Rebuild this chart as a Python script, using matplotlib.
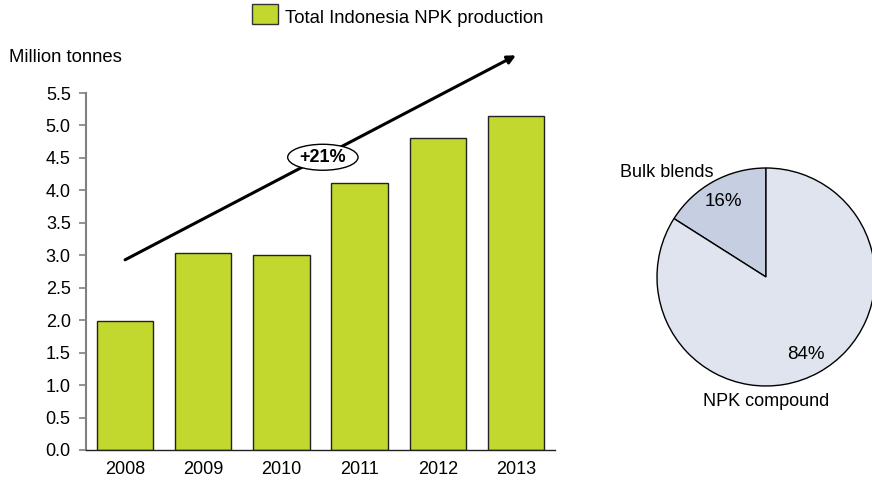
import matplotlib
matplotlib.use("Agg")
import matplotlib.pyplot as plt
from matplotlib.patches import Ellipse, Rectangle, FancyArrowPatch

plt.rcParams['font.family'] = ['Liberation Sans', 'DejaVu Sans']

years = ["2008", "2009", "2010", "2011", "2012", "2013"]
production = [1.98, 3.03, 3.00, 4.11, 4.80, 5.14]
yticks = [0.0, 0.5, 1.0, 1.5, 2.0, 2.5, 3.0, 3.5, 4.0, 4.5, 5.0, 5.5]
pie_labels = ["Bulk blends", "NPK compound"]
pie_shares = [16, 84]
growth_label = "+21%"
legend_label = "Total Indonesia NPK production"
unit_label = "Million tonnes"

bar_color = "#c3d82e"
pie_colors = ["#c5cfe1", "#dfe4ef"]
FS = 13

W, H = 872, 491
fig = plt.figure(figsize=(W / 100, H / 100), dpi=100)

# Bar chart axes
ax = fig.add_axes([86 / W, 1 - 450 / H, (555 - 86) / W, (450 - 93) / H])
x = list(range(len(years)))
ax.bar(x, production, width=0.72, color=bar_color, edgecolor="#222222", linewidth=1.0, zorder=2)
ax.set_xlim(-0.5, 5.5)
ax.set_ylim(0, 5.5)
ax.set_yticks(yticks)
ax.set_yticklabels([f"{v:.1f}" for v in yticks], fontsize=FS)
ax.set_xticks(x)
ax.set_xticklabels(years, fontsize=FS)
for s in ["top", "right"]:
    ax.spines[s].set_visible(False)
ax.spines["left"].set_color("#808080")
ax.spines["left"].set_linewidth(1.5)
ax.spines["bottom"].set_color("#222222")
ax.spines["bottom"].set_linewidth(1.0)
ax.tick_params(axis="y", direction="out", length=5, color="#808080", width=1.2, pad=6)
ax.tick_params(axis="x", length=0, pad=8)
fig.text(9 / W, 1 - 57 / H, unit_label, fontsize=FS + 0.3, ha="left", va="center")

# Growth arrow
arr = FancyArrowPatch((0.0, 2.93), (5.0, 6.08), arrowstyle="-|>", mutation_scale=12,
                      color="black", linewidth=2.2, clip_on=False, zorder=3,
                      shrinkA=0, shrinkB=0)
ax.add_patch(arr)
ell = Ellipse((2.53, 4.51), 0.9, 0.40, facecolor="white", edgecolor="black",
              linewidth=1.0, zorder=4, clip_on=False)
ax.add_patch(ell)
ax.text(2.53, 4.51, growth_label, fontsize=FS, fontweight="bold", ha="center",
        va="center", zorder=5)

# Legend
fig.patches.append(Rectangle((252 / W, 1 - 24 / H), 26 / W, 20 / H, transform=fig.transFigure,
                             facecolor=bar_color, edgecolor="#333333", linewidth=1.0))
fig.text(285 / W, 1 - 23.3 / H, legend_label, fontsize=13.3, ha="left", va="baseline")

# Pie
r = 109
pax = fig.add_axes([(766 - r) / W, 1 - (277 + r) / H, 2 * r / W, 2 * r / H])
pax.pie(pie_shares, colors=pie_colors, startangle=90, counterclock=True,
        wedgeprops=dict(edgecolor="black", linewidth=1.0))
pax.set_xlim(-1, 1)
pax.set_ylim(-1, 1)
pax.set_aspect("equal")
pax.text(-0.39, 0.69, f"{pie_shares[0]}%", fontsize=13.5, ha="center", va="center")
pax.text(0.37, -0.71, f"{pie_shares[1]}%", fontsize=13.5, ha="center", va="center")
pax.text(-0.91, 0.96, pie_labels[0], fontsize=FS, ha="center", va="center", clip_on=False)
pax.text(0.0, -1.14, pie_labels[1], fontsize=FS, ha="center", va="center", clip_on=False)

fig.savefig("out.png", dpi=100)
